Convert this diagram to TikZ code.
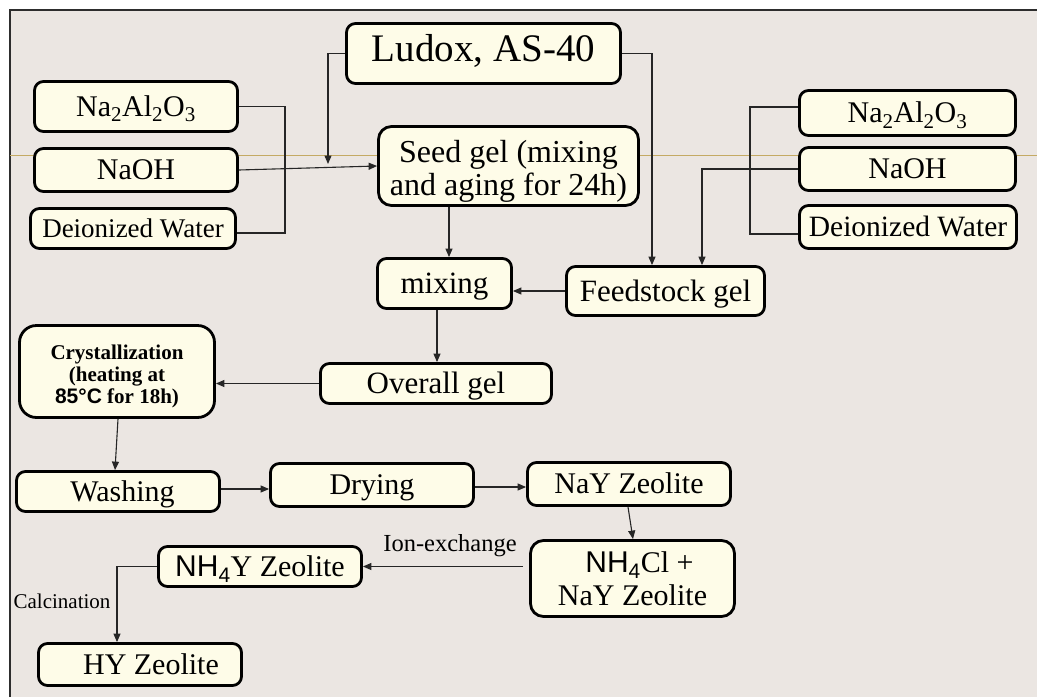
\documentclass[tikz,border=0pt]{standalone}
\usepackage{fontspec}
\setmainfont{Liberation Serif}
\newfontfamily\sansf{Liberation Sans}
\usetikzlibrary{arrows.meta}
\definecolor{bgc}{RGB}{235,230,226}
\definecolor{boxf}{RGB}{254,252,232}
\definecolor{tanl}{RGB}{196,170,100}
\definecolor{framec}{RGB}{45,45,45}
\begin{document}
\begin{tikzpicture}[x=1pt,y=-1pt,
  box/.style={draw=black, line width=2.8pt, rounded corners=9pt, fill=boxf, inner sep=0pt, align=center},
  tA/.style={font=\fontsize{30}{33}\selectfont, text height=27pt, text depth=7.2pt},
  tB/.style={font=\fontsize{31}{34}\selectfont, text height=27.9pt, text depth=7.4pt},
  tC/.style={font=\fontsize{27}{30}\selectfont, text height=24.3pt, text depth=6.5pt},
  tD/.style={font=\fontsize{29.5}{32}\selectfont, text height=26.5pt, text depth=7.1pt},
  fA/.style={font=\fontsize{30}{33}\selectfont},
  conn/.style={line width=1.1pt, draw=black!85},
  arr/.style={conn, -{Triangle[length=8.5pt,width=7pt]}},
  lbl/.style={inner sep=0pt}
]
\useasboundingbox (0,0) rectangle (1037,697);
% background
\fill[white] (0,0) rectangle (1037,697);
\fill[bgc] (10,10) rectangle (1037,697);
\draw[framec, line width=1.5pt] (10,697) -- (10,10) -- (1037,10);
\draw[tanl, line width=0.9pt] (10,155) -- (1037,155);

% nodes
\node[box, minimum width=274pt, minimum height=60pt, font=\fontsize{39}{42}\selectfont, text height=35pt, text depth=19pt] (ludox) at (483.5,53.5) {Ludox, AS-40};
\node[box, tA, minimum width=203pt, minimum height=50pt] (naL) at (136,106.5) {Na\textsubscript{2}Al\textsubscript{2}O\textsubscript{3}};
\node[box, tA, minimum width=203pt, minimum height=43pt] (nahL) at (136,170) {NaOH};
\node[box, tC, minimum width=205pt, minimum height=40pt] (dwL) at (133,228.5) {Deionized Water};
\node[box, font=\fontsize{32}{33.5}\selectfont, minimum width=260pt, minimum height=79pt, rounded corners=13pt] (seed) at (508.5,166) {\rule{0pt}{33pt}Seed gel (mixing\\and aging for 24h)};
\node[box, tA, minimum width=216pt, minimum height=45pt] (naR) at (907.5,113) {Na\textsubscript{2}Al\textsubscript{2}O\textsubscript{3}};
\node[box, tA, minimum width=216pt, minimum height=43pt] (nahR) at (907.5,169) {NaOH};
\node[box, tD, minimum width=217pt, minimum height=43pt] (dwR) at (908,227) {Deionized Water};
\node[box, tB, minimum width=198pt, minimum height=49pt] (feed) at (665.5,291) {Feedstock gel};
\node[box, tB, minimum width=134pt, minimum height=50pt] (mixing) at (444.5,283.5) {mixing};
\node[box, tB, minimum width=231pt, minimum height=40pt] (overall) at (436,383.5) {Overall gel};
\node[box, font=\bfseries\fontsize{21}{22}\selectfont, minimum width=195pt, minimum height=92pt, rounded corners=17pt] (cryst) at (117,371.5) {\rule{0pt}{25pt}Crystallization\\(heating at\\{\sansf 85°C} for 18h)};
\node[box, tA, minimum width=203pt, minimum height=40pt] (wash) at (118,491.5) {\hspace*{9pt}Washing};
\node[box, tA, minimum width=203pt, minimum height=43pt] (dry) at (372,485) {Drying};
\node[box, tA, minimum width=203pt, minimum height=43pt] (nay) at (629,484) {NaY Zeolite};
\node[box, fA, minimum width=204pt, minimum height=76pt, rounded corners=13pt] (nh4cl) at (632.5,578.5) {\hspace*{14pt}{\sansf NH\textsubscript{4}}Cl +\\NaY Zeolite};
\node[box, tA, minimum width=203pt, minimum height=40pt] (nh4y) at (260,566.5) {{\sansf NH\textsubscript{4}}Y Zeolite};
\node[box, tA, minimum width=203pt, minimum height=42pt] (hy) at (140,664.5) {\hspace*{22pt}HY Zeolite};

% labels
\node[lbl, font=\fontsize{24.5}{26}\selectfont] (ionlbl) at (450,546) {Ion-exchange};
\node[lbl, font=\fontsize{21}{23}\selectfont] (callbl) at (62,601) {Calcination};

% helper coordinates
\coordinate (j1) at (328,164);
\coordinate (bL) at (285,170);
\coordinate (bR) at (750,170);
\coordinate (s1) at (449,0);
\coordinate (s2) at (437,0);
\coordinate (h1) at (0,489);
\coordinate (h2) at (0,487);

% connectors
\draw[arr] (ludox.west) -| (j1);
\draw[conn] (naL.east) -| (bL) |- ([yshift=-4.5pt]dwL.east);
\draw[arr] (nahL.east) -- (seed.west);
\draw[arr] (ludox.east) -| ([xshift=-13.5pt]feed.north);
\draw[conn] ([yshift=6pt]naR.west) -| (bR) |- ([yshift=-7pt]dwR.west);
\draw[arr] (nahR.west) -| ([xshift=36.5pt]feed.north);
\draw[arr] (seed.south -| s1) -- (mixing.north -| s1);
\draw[arr] (feed.west) -- (feed.west -| mixing.east);
\draw[arr] (mixing.south -| s2) -- (overall.north -| s2);
\draw[arr] (overall.west) -- (overall.west -| cryst.east);
\draw[arr] ([xshift=1pt]cryst.south) -- ([xshift=-3pt]wash.north);
\draw[arr] (wash.east |- h1) -- (dry.west |- h1);
\draw[arr] (dry.east |- h2) -- (nay.west |- h2);
\draw[arr] ([xshift=-1pt]nay.south) -- ([xshift=0.5pt]nh4cl.north);
\draw[arr] ([xshift=-6pt]nh4cl.west |- nh4y.east) -- (nh4y.east);
\draw[arr] (nh4y.west) -| ([xshift=-23pt]hy.north);
\end{tikzpicture}
\end{document}
